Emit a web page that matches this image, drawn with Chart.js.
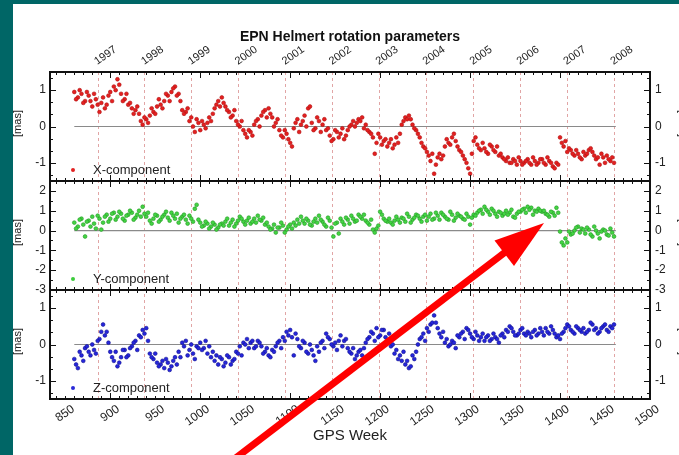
<!DOCTYPE html>
<html><head><meta charset="utf-8">
<script src="https://cdn.jsdelivr.net/npm/chart.js@4.4.1/dist/chart.umd.min.js"></script>
<style>html,body{margin:0;padding:0;background:#006666;overflow:hidden}canvas{display:block}</style>
</head><body>
<canvas id="c" width="679" height="455"></canvas>
<script>
// GPS weeks of the weekly solutions (two interleaved sets)
const weeksA = [860,864,868,872,876,880,884,888,892,896,900,904,908,912,916,920,924,928,932,936,940,944,948,952,956,960,964,968,972,976,980,984,988,992,996,1000,1004,1008,1012,1016,1020,1024,1028,1032,1036,1040,1044,1048,1052,1056,1060,1064,1068,1072,1076,1080,1084,1088,1092,1096,1100,1104,1108,1112,1116,1120,1124,1128,1132,1136,1140,1144,1148,1152,1156,1160,1164,1168,1172,1176,1180,1184,1188,1192,1196,1200,1204,1208,1212,1216,1220,1224,1228,1232,1236,1240,1244,1248,1252,1256,1260,1264,1268,1272,1276,1280,1284,1288,1292,1296,1300,1304,1308,1312,1316,1320,1324,1328,1332,1336,1340,1344,1348,1352,1356,1360,1364,1368,1372,1376,1380,1384,1388,1392,1396,1400,1404,1408,1412,1416,1420,1424,1428,1432,1436,1440,1444,1448,1452,1456,1460];
const weeksB = [862,866,870,874,878,882,886,890,894,898,
 902,906,910,914,918,922,926,930,934,938,
 942,946,950,954,958,962,966,970,974,978,
 982,986,990,994,998,1002,1006,1010,1014,1018,
 1022,1026,1030,1034,1038,1042,1046,1050,1054,1058,
 1062,1066,1070,1074,1078,1082,1086,1090,1094,1098,
 1102,1106,1110,1114,1118,1122,1126,1130,1134,1138,
 1142,1146,1150,1154,1158,1162,1166,1170,1174,1178,
 1182,1186,1190,1194,1198,1202,1206,1210,1214,1218,
 1222,1226,1230,1234,1238,1242,1246,1250,1254,1258,
 1262,1266,1270,1274,1278,1282,1286,1290,1294,1298,
 1302,1306,1310,1314,1318,1322,1326,1330,1334,1338,
 1342,1346,1350,1354,1358,1362,1366,1370,1374,1378,
 1382,1386,1390,1394,1398,1402,1406,1410,1414,1418,
 1422,1426,1430,1434,1438,1442,1446,1450,1454,1458];

// rotation components [mas]
const xCompA = [0.95,0.80,0.90,0.70,0.85,0.55,0.75,0.40,0.80,0.60,0.95,1.10,1.30,0.90,0.75,0.60,0.50,0.45,0.35,0.05,0.20,0.30,0.40,0.55,0.60,0.70,0.85,0.95,1.10,0.90,0.45,0.40,0.15,0.00,0.20,-0.10,0.05,0.10,0.15,0.50,0.70,0.80,0.55,0.40,0.30,0.15,0.00,-0.10,-0.30,-0.15,0.05,0.20,0.30,0.45,0.50,0.25,0.10,-0.10,-0.30,-0.20,-0.45,-0.05,0.20,0.05,0.30,0.50,0.10,-0.05,0.15,0.05,-0.10,-0.25,-0.35,-0.15,-0.20,-0.35,-0.10,0.05,0.00,0.20,0.25,0.05,-0.15,-0.30,-0.45,-0.30,-0.40,-0.55,-0.35,-0.50,-0.45,0.05,0.25,0.30,0.05,-0.10,-0.30,-0.55,-0.70,-0.95,-1.30,-0.85,-0.90,-0.55,-0.45,-0.30,-0.40,-0.65,-0.80,-1.00,-1.30,-0.40,-0.50,-0.65,-0.60,-0.75,-0.55,-0.70,-0.80,-0.85,-0.95,-1.00,-0.90,-1.05,-0.95,-1.00,-0.90,-1.05,-0.95,-1.00,-0.90,-1.05,-0.95,-1.10,-1.00,-0.30,-0.55,-0.70,-0.65,-0.80,-0.75,-0.90,-0.80,-0.65,-0.70,-0.90,-1.05,-0.85,-0.80,-0.95,-1.00];
const xCompB = [0.75,1.00,0.65,0.95,0.70,0.90,0.60,0.65,0.50,0.85,
 0.70,1.00,1.15,0.70,0.90,0.65,0.35,0.55,0.15,0.25,
 0.10,0.50,0.35,0.75,0.50,0.90,0.70,1.05,0.85,0.70,
 0.35,0.50,0.25,-0.15,0.10,0.15,-0.05,0.25,0.35,0.60,
 0.55,0.65,0.45,0.25,0.45,0.05,0.15,-0.20,-0.10,-0.25,
 0.15,0.00,0.40,0.25,0.35,0.00,0.20,-0.25,-0.10,-0.35,
 -0.55,0.10,-0.15,0.15,0.00,0.55,-0.10,0.25,-0.15,0.20,
 -0.05,-0.40,-0.10,-0.30,-0.05,-0.25,0.00,0.15,0.10,0.15,
 -0.05,-0.10,-0.20,-0.75,-0.20,-0.50,-0.35,-0.45,-0.60,-0.30,
 -0.20,0.15,0.20,0.20,-0.05,-0.20,-0.45,-0.60,-0.80,-0.75,
 -1.05,-0.75,-0.80,-0.35,-0.50,-0.20,-0.55,-0.70,-0.90,-1.15,
 -0.75,-0.30,-0.60,-0.45,-0.70,-0.50,-0.65,-0.55,-0.75,-0.90,
 -0.85,-1.00,-0.95,-0.85,-1.05,-0.95,-1.00,-0.85,-1.05,-0.90,
 -1.00,-0.85,-1.00,-1.15,-1.05,-0.45,-0.40,-0.60,-0.75,-0.65,
 -0.85,-0.70,-0.75,-0.60,-0.80,-0.85,-0.75,-1.00,-0.90,-0.85];
const yCompA = [0.40,0.20,0.60,-0.30,0.50,0.70,0.10,0.60,0.40,0.80,0.60,0.90,0.70,0.85,0.50,0.80,0.90,0.65,1.00,1.20,0.70,0.50,0.60,0.75,0.55,0.80,0.65,0.90,0.60,0.40,0.70,0.55,0.75,0.45,1.30,0.40,0.25,0.35,0.20,0.30,0.15,0.35,0.45,0.25,0.55,0.35,0.70,0.45,0.50,0.35,0.60,0.75,0.50,0.30,0.20,0.10,-0.10,0.15,0.25,0.05,0.30,0.40,0.55,0.70,0.35,0.50,0.25,0.60,0.75,0.45,0.20,0.50,-0.30,0.40,0.60,0.30,0.55,0.75,0.45,0.80,0.60,0.50,0.30,0.05,0.10,0.95,0.60,0.45,0.40,0.50,0.55,0.65,0.45,0.70,0.55,0.80,0.60,0.70,0.50,0.85,0.60,0.75,0.90,0.70,0.55,0.80,0.65,0.75,0.60,0.85,0.30,0.80,0.90,1.05,1.20,0.95,1.10,0.85,0.95,0.75,1.00,0.90,0.70,0.85,0.95,1.10,1.20,1.15,1.00,1.10,0.95,0.85,0.70,0.90,1.15,-0.05,-0.75,-0.60,-0.20,0.00,0.20,0.10,-0.15,0.05,-0.30,0.00,-0.40,0.05,-0.20,0.10,-0.30];
const yCompB = [0.10,0.55,0.30,0.45,0.20,0.35,0.75,0.05,0.70,0.45,
 0.85,0.55,0.95,0.60,0.75,1.00,0.55,0.80,0.70,0.85,
 0.90,0.35,0.80,0.45,0.70,0.95,0.50,0.75,0.85,0.60,
 0.80,0.35,0.60,1.10,0.55,0.20,0.45,0.10,0.40,0.05,
 0.30,0.25,0.60,0.40,0.20,0.50,0.60,0.30,0.65,0.45,
 0.40,0.55,0.65,0.40,0.05,0.30,0.15,0.40,-0.10,0.20,
 0.10,0.25,0.35,0.50,0.60,0.30,0.45,0.40,0.55,0.30,
 0.65,0.15,0.35,-0.15,0.45,0.65,0.35,0.60,0.50,0.70,
 0.80,0.40,0.55,-0.10,0.25,0.80,0.50,0.60,0.30,0.70,
 0.40,0.60,0.85,0.40,0.65,0.75,0.45,0.80,0.70,0.55,
 0.90,0.55,0.80,0.60,0.95,0.50,0.85,0.70,0.55,0.70,
 0.65,0.75,1.00,0.85,1.05,0.80,1.00,0.70,0.90,0.85,
 0.80,1.05,0.65,0.95,1.05,0.90,1.05,0.80,0.95,1.00,
 1.00,0.80,0.95,0.75,0.90,-0.60,-0.40,-0.05,-0.15,0.15,
 -0.10,0.05,0.15,-0.20,0.20,-0.15,-0.05,0.00,-0.25,-0.10];
const zCompA = [-0.40,-0.65,-0.30,-0.10,-0.20,0.00,-0.25,0.15,0.55,0.35,-0.20,-0.45,-0.60,-0.35,-0.15,-0.30,-0.05,0.10,0.25,0.40,0.45,-0.25,-0.40,-0.50,-0.55,-0.65,-0.50,-0.60,-0.35,-0.20,0.05,0.10,-0.15,-0.25,-0.05,0.05,-0.10,-0.25,-0.35,-0.45,-0.55,-0.40,-0.50,-0.35,-0.45,-0.20,-0.05,0.05,0.15,0.05,-0.10,0.10,-0.05,-0.20,-0.30,-0.15,-0.05,0.10,0.20,0.35,0.40,-0.30,0.15,-0.10,0.05,-0.25,-0.15,-0.45,-0.20,0.10,0.30,0.15,-0.05,-0.15,0.25,0.10,-0.10,-0.25,-0.40,-0.20,-0.30,0.05,0.20,0.30,0.45,0.25,0.40,0.10,-0.05,-0.25,-0.40,-0.45,-0.55,-0.65,-0.30,-0.20,0.15,0.30,0.45,0.55,0.80,0.45,0.20,0.05,-0.05,0.10,-0.10,0.20,0.35,0.45,0.30,0.15,0.25,0.20,0.10,0.25,0.15,0.20,0.05,0.30,0.40,0.50,0.35,0.25,0.40,0.30,0.35,0.20,0.40,0.30,0.35,0.45,0.30,0.40,0.20,0.15,0.35,0.55,0.40,0.30,0.45,0.35,0.30,0.40,0.55,0.45,0.35,0.50,0.40,0.50,0.55];
const zCompB = [-0.55,-0.20,-0.45,-0.05,-0.30,-0.15,0.10,0.35,0.25,0.05,
 -0.35,-0.20,-0.50,-0.15,-0.35,-0.10,0.05,-0.15,0.20,0.30,
 0.10,-0.35,-0.25,-0.60,-0.45,-0.40,-0.70,-0.45,-0.55,-0.35,
 -0.05,-0.30,0.00,-0.40,-0.10,-0.15,0.10,-0.05,-0.20,-0.30,
 -0.35,-0.60,-0.30,-0.55,-0.40,-0.25,-0.30,0.00,-0.10,0.10,
 -0.05,0.05,-0.25,-0.10,-0.35,-0.20,0.05,-0.10,0.10,0.25,
 0.20,0.30,-0.05,0.10,-0.20,0.00,-0.30,-0.05,0.05,-0.10,
 0.20,0.00,0.05,0.10,-0.05,0.15,-0.20,-0.10,-0.30,-0.15,
 -0.10,0.15,0.35,0.10,0.20,0.40,0.20,0.30,0.00,-0.15,
 -0.30,-0.20,-0.45,-0.60,-0.40,0.00,0.20,0.10,0.35,0.60,
 0.60,0.30,0.35,0.15,0.00,0.05,0.25,0.30,0.15,0.40,
 0.20,0.35,0.10,0.30,0.20,0.10,0.30,0.15,0.25,0.20,
 0.35,0.45,0.25,0.30,0.45,0.25,0.30,0.35,0.25,0.45,
 0.25,0.35,0.50,0.30,0.25,0.30,0.45,0.50,0.35,0.50,
 0.40,0.45,0.35,0.60,0.40,0.30,0.45,0.55,0.35,0.45];

const yearLabels = ['1997','1998','1999','2000','2001','2002','2003','2004','2005','2006','2007','2008'];
const yearWeeks = [886.4,938.6,990.7,1042.9,1095.1,1147.3,1199.4,1251.6,1303.9,1356.0,1408.1,1460.3];
const weekTicks = [850,900,950,1000,1050,1100,1150,1200,1250,1300,1350,1400,1450,1500];
const yTicksXZ = [-1,0,1];
const yTicksY = [-3,-2,-1,0,1,2];
const zeroSpan = [860,1462];
const seriesNames = ['X-component','Y-component','Z-component'];

const FONT = "'Liberation Sans', Arial, Helvetica, sans-serif";
Chart.defaults.font.family = FONT;
Chart.defaults.color = '#222';

const pts = (ws, vals) => ws.map((w,i)=>({x:w,y:vals[i]}));
const zeroLine = axis => ({data:zeroSpan.map(w=>({x:w,y:0})), yAxisID:axis, showLine:true, pointRadius:0, borderColor:'#8a8a8a', borderWidth:1.2, order:10});
const scatterDs = (a, b, axis, fill, edge) => ({data:pts(weeksA,a).concat(pts(weeksB,b)), yAxisID:axis, pointRadius:1.9, pointHoverRadius:1.9, backgroundColor:fill, borderColor:edge, borderWidth:0.6, order:1});

function yAxis(pos, min, max, ticks, weight, w) {
  return {type:'linear', position:pos, stack:pos, stackWeight:1, weight:weight, min:min, max:max,
    afterBuildTicks: s => { s.ticks = ticks.map(v=>({value:v})); },
    afterFit: s => { s.width = w; },
    ticks:{autoSkip:false, font:{size:12}, color:'#222', padding: pos==='left'?4:5, callback: v => String(v)},
    grid:{display:false, drawTicks:false}, border:{display:false}};
}

const frame = {
  id:'frame',
  beforeDraw(chart){
    const ctx = chart.ctx;
    ctx.save();
    ctx.fillStyle = '#006666'; ctx.fillRect(0,0,chart.width,chart.height);
    ctx.fillStyle = '#ffffff'; ctx.fillRect(13,4,chart.width-13,chart.height-4);
    ctx.restore();
  },
  afterDatasetsDraw(chart){
    const {ctx, chartArea:{left,right}, scales} = chart;
    const panels = [scales.y1, scales.y2, scales.y3];
    ctx.save();
    ctx.strokeStyle = '#111'; ctx.lineWidth = 1;
    ctx.beginPath();
    for (let w=840; w<=1500; w+=10) {
      const px = Math.round(scales.x.getPixelForValue(w))+0.5;
      const len = (w%100===0)?6:3;
      panels.forEach(p=>{
        ctx.moveTo(px,p.top); ctx.lineTo(px,p.top+len);
        ctx.moveTo(px,p.bottom); ctx.lineTo(px,p.bottom-len);
      });
    }
    panels.forEach((p,i)=>{
      const div = (i===1)?2:3;
      for (let k=Math.ceil(p.min*div); k<=Math.floor(p.max*div); k++) {
        const py = Math.round(p.getPixelForValue(k/div))+0.5;
        const len = (k%div===0)?6:3;
        ctx.moveTo(left,py); ctx.lineTo(left+len,py);
        ctx.moveTo(right,py); ctx.lineTo(right-len,py);
      }
    });
    ctx.stroke();
    ctx.lineWidth = 2;
    panels.forEach(p=>{ ctx.strokeRect(left, p.top, right-left, p.bottom-p.top); });
    ctx.restore();
  },
  afterDraw(chart){
    const {ctx, chartArea:{left,right}, scales} = chart;
    const panels = [scales.y1, scales.y2, scales.y3];
    const colors = ['#e22222','#3ccc3c','#2a2ad8'];
    ctx.save();
    ctx.fillStyle = '#111';
    ctx.font = 'bold 14px ' + FONT;
    ctx.textAlign = 'center'; ctx.textBaseline = 'middle';
    ctx.fillText('EPN Helmert rotation parameters', (left+right)/2, 37);
    ctx.font = '15px ' + FONT;
    ctx.fillStyle = '#222';
    ctx.fillText('GPS Week', (left+right)/2, 436);
    panels.forEach((p,i)=>{
      ctx.fillStyle = colors[i];
      ctx.beginPath(); ctx.arc(73, p.bottom-11, 2, 0, Math.PI*2); ctx.fill();
      ctx.fillStyle = '#222';
      ctx.font = '13px ' + FONT;
      ctx.textAlign = 'left'; ctx.textBaseline = 'middle';
      ctx.fillText(seriesNames[i], 93, p.bottom-11);
      const cy = (p.top+p.bottom)/2 - 3;
      ctx.font = '11px ' + FONT;
      ctx.textAlign = 'center';
      ctx.save(); ctx.translate(18, cy); ctx.rotate(-Math.PI/2); ctx.fillText('[mas]', 0, 0); ctx.restore();
      ctx.save(); ctx.translate(682, cy); ctx.rotate(Math.PI/2); ctx.fillText('[mas]', 0, 0); ctx.restore();
    });
    ctx.fillStyle = '#ff0000'; ctx.strokeStyle = '#ff0000';
    ctx.lineWidth = 7; ctx.lineCap = 'butt';
    ctx.beginPath(); ctx.moveTo(220,470); ctx.lineTo(508,250); ctx.stroke();
    ctx.beginPath(); ctx.moveTo(544,223); ctx.lineTo(494.5,240.5); ctx.lineTo(514,266); ctx.closePath(); ctx.fill();
    ctx.restore();
  }
};

new Chart(document.getElementById('c'), {
  type:'scatter',
  data:{datasets:[
    scatterDs(xCompA, xCompB, 'y1','#e42020','#b01010'),
    scatterDs(yCompA, yCompB, 'y2','#44d444','#229922'),
    scatterDs(zCompA, zCompB, 'y3','#2626dc','#101090'),
    zeroLine('y1'), zeroLine('y2'), zeroLine('y3')
  ]},
  options:{
    responsive:false, animation:false, events:[],
    layout:{padding:0},
    plugins:{legend:{display:false}, tooltip:{enabled:false}, title:{display:false}},
    scales:{
      x:{type:'linear', position:'bottom', min:833, max:1500,
        afterBuildTicks: s => { s.ticks = weekTicks.map(v=>({value:v})); },
        afterFit: s => { s.height = 56; },
        ticks:{autoSkip:false, minRotation:35, maxRotation:35, font:{size:12}, color:'#222', padding:3, labelOffset:8,
          callback: v => String(v)},
        grid:{display:false, drawTicks:false}, border:{display:false}},
      x2:{type:'linear', position:'top', min:833, max:1500,
        afterBuildTicks: s => { s.ticks = yearWeeks.map(v=>({value:v})); },
        afterFit: s => { s.height = 72; },
        ticks:{autoSkip:false, minRotation:35, maxRotation:35, font:{size:11}, color:'#222', padding:4, labelOffset:5,
          callback:(v,i)=>yearLabels[i]},
        grid:{display:true, drawTicks:false, color:'rgba(205,105,105,0.6)', lineWidth:1},
        border:{display:false, dash:[3,3]}},
      y1: yAxis('left', -1.5, 1.5, yTicksXZ, 3, 50),
      y2: yAxis('left', -3, 2.5, yTicksY, 2, 50),
      y3: yAxis('left', -1.5, 1.5, yTicksXZ, 1, 50),
      y1r: yAxis('right', -1.5, 1.5, yTicksXZ, 1, 29),
      y2r: yAxis('right', -3, 2.5, yTicksY, 2, 29),
      y3r: yAxis('right', -1.5, 1.5, yTicksXZ, 3, 29)
    }
  },
  plugins:[frame]
});
</script>
</body></html>
